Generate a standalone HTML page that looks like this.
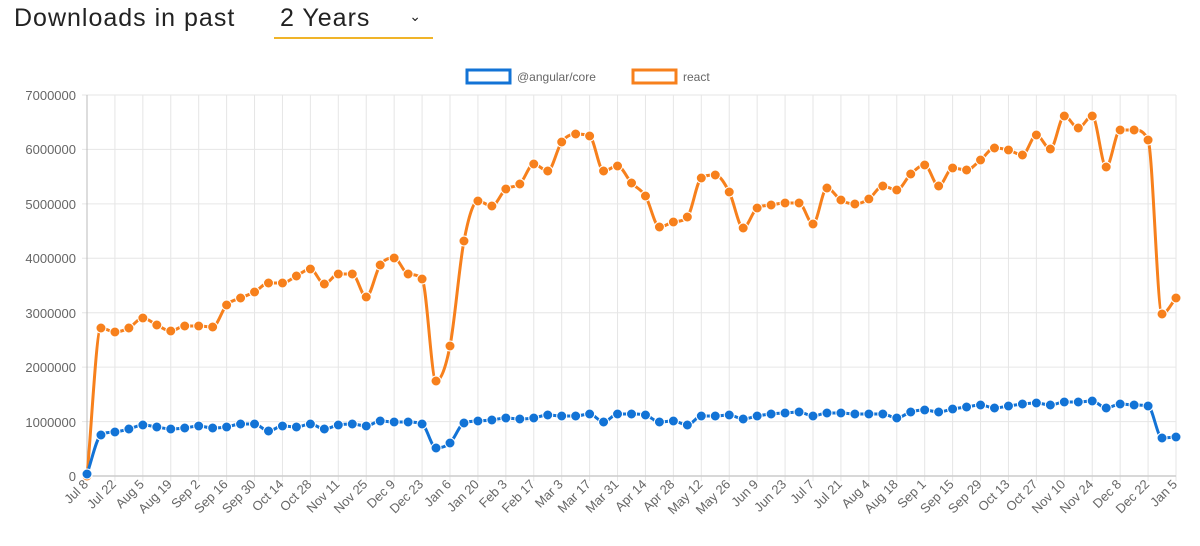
<!DOCTYPE html>
<html><head><meta charset="utf-8"><style>
body{margin:0;width:1200px;height:546px;background:#fff;font-family:"Liberation Sans",sans-serif;overflow:hidden;position:relative}
.h{position:absolute;left:14px;top:4px;font-size:25px;color:#222;letter-spacing:1px}
.sel{position:absolute;left:274px;top:4px;width:159px;height:33px;border-bottom:2px solid #f0b429;font-size:25px;color:#222}
.sel span{position:absolute;left:6px;top:0;letter-spacing:1px}
.sel i{position:absolute;right:12px;top:4px;font-style:normal;font-size:14px}
svg{position:absolute;left:0;top:0}
</style></head><body>
<div class="h">Downloads in past</div>
<div class="sel"><span>2 Years</span><i>⌄</i></div>
<svg width="1200" height="546" id="s" font-family="Liberation Sans, sans-serif">
<g id="grid" stroke="#e6e6e6" stroke-width="1"></g>
<line x1="87" y1="95" x2="87" y2="476" stroke="#bbb"/>
<line x1="82" y1="476" x2="1176" y2="476" stroke="#ccc" stroke-width="1.5"/>
<g font-size="13" fill="#666" text-anchor="end">
<text x="76" y="100">7000000</text><text x="76" y="154">6000000</text><text x="76" y="209">5000000</text><text x="76" y="263">4000000</text><text x="76" y="318">3000000</text><text x="76" y="372">2000000</text><text x="76" y="427">1000000</text><text x="76" y="481">0</text>
</g>
<rect x="467" y="70" width="43" height="13" fill="none" stroke="#1273d6" stroke-width="3"/>
<text x="517" y="81" font-size="12" fill="#666">@angular/core</text>
<rect x="633" y="70" width="43" height="13" fill="none" stroke="#f7801c" stroke-width="3"/>
<text x="683" y="81" font-size="12" fill="#666">react</text>
<g id="xl" font-size="13" fill="#666" text-anchor="end">
<text>Jul 8</text><text>Jul 22</text><text>Aug 5</text><text>Aug 19</text><text>Sep 2</text><text>Sep 16</text><text>Sep 30</text><text>Oct 14</text><text>Oct 28</text><text>Nov 11</text><text>Nov 25</text><text>Dec 9</text><text>Dec 23</text><text>Jan 6</text><text>Jan 20</text><text>Feb 3</text><text>Feb 17</text><text>Mar 3</text><text>Mar 17</text><text>Mar 31</text><text>Apr 14</text><text>Apr 28</text><text>May 12</text><text>May 26</text><text>Jun 9</text><text>Jun 23</text><text>Jul 7</text><text>Jul 21</text><text>Aug 4</text><text>Aug 18</text><text>Sep 1</text><text>Sep 15</text><text>Sep 29</text><text>Oct 13</text><text>Oct 27</text><text>Nov 10</text><text>Nov 24</text><text>Dec 8</text><text>Dec 22</text><text>Jan 5</text>
</g>
<g id="series"></g>
</svg>
<script>
var X0=87,DX=(1176-87)/78;
var o=[476,328,332,328,318,325,331,326,326,327,305,298,292,283,283,276,269,284,274,274,297,265,258,274,279,381,346,241,201,206,189,184,164,171,142,134,136,171,166,183,196,227,222,217,178,175,192,228,208,205,203,203,224,188,200,204,199,186,190,174,165,186,168,170,160,148,150,155,135,149,116,128,116,167,130,130,140,314,298];
var b=[474,435,432,429,425,427,429,428,426,428,427,424,424,431,426,427,424,429,425,424,426,421,422,422,424,448,443,423,421,420,418,419,418,415,416,416,414,422,414,414,415,422,421,425,416,416,415,419,416,414,413,412,416,413,413,414,414,414,418,412,410,412,409,407,405,408,406,404,403,405,402,402,401,408,404,405,406,438,437];
var ns="http://www.w3.org/2000/svg",g=document.getElementById('grid'),s=document.getElementById('series');
function el(t,a,p){var e=document.createElementNS(ns,t);for(var k in a)e.setAttribute(k,a[k]);p.appendChild(e);return e;}
for(var v=0;v<7;v++){var y=95+v*381/7;el('line',{x1:82,x2:1176,y1:y,y2:y},g);}
for(var i=2;i<=78;i+=2){var x=X0+i*DX;el('line',{x1:x,x2:x,y1:95,y2:481},g);}
var xl=document.getElementById('xl').children;
for(var j=0;j<xl.length;j++){var x=X0+j*2*DX+2,y=485;xl[j].setAttribute('transform','translate('+x+','+y+') rotate(-45)');}
function path(d){var n=d.length,dl=[],m=[];for(var i=0;i<n-1;i++)dl.push((d[i+1]-d[i])/DX);
m[0]=dl[0];m[n-1]=dl[n-2];for(var i=1;i<n-1;i++){if(dl[i-1]*dl[i]<=0)m[i]=0;else m[i]=(dl[i-1]+dl[i])/2;}
for(var i=0;i<n-1;i++){if(dl[i]==0){m[i]=0;m[i+1]=0;continue;}var a=m[i]/dl[i],bb=m[i+1]/dl[i],h=a*a+bb*bb;if(h>9){var t=3/Math.sqrt(h);m[i]=t*a*dl[i];m[i+1]=t*bb*dl[i];}}
var p='M'+X0+','+d[0];for(var i=0;i<n-1;i++){var x1=X0+i*DX,x2=x1+DX;p+=' C'+(x1+DX/3)+','+(d[i]+m[i]*DX/3)+' '+(x2-DX/3)+','+(d[i+1]-m[i+1]*DX/3)+' '+x2+','+d[i+1];}return p;}
function ser(d,c){el('path',{d:path(d),fill:'none',stroke:c,'stroke-width':3},s);for(var i=0;i<d.length;i++)el('circle',{cx:X0+i*DX,cy:d[i],r:5,fill:c,stroke:'#fff','stroke-width':1},s);}
ser(o,'#f7801c');ser(b,'#1273d6');
</script>
</body></html>
